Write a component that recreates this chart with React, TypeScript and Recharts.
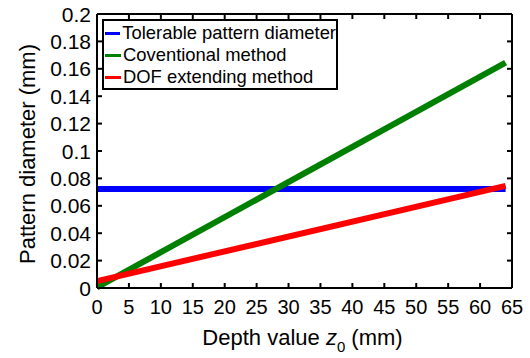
import React from "react";
import { LineChart, Line, XAxis, YAxis, Legend } from "recharts";

const depth = [0, 64];
const tolerable = [0.0723, 0.0723];
const conventional = [0.0005, 0.1645];
const dofExtending = [0.005, 0.0745];

const xTicks = [0, 5, 10, 15, 20, 25, 30, 35, 40, 45, 50, 55, 60, 65];
const yTicks = [0, 0.02, 0.04, 0.06, 0.08, 0.1, 0.12, 0.14, 0.16, 0.18, 0.2];

const seriesInfo = [
  { key: "tolerable", name: "Tolerable pattern diameter", color: "#0000ff", xId: "top", yId: "right" },
  { key: "conventional", name: "Coventional method", color: "#008000", xId: 0, yId: 0 },
  { key: "dof", name: "DOF extending method", color: "#ff0000", xId: 0, yId: 0 },
];

const data = depth.map((d, i) => ({
  x: d,
  tolerable: tolerable[i],
  conventional: conventional[i],
  dof: dofExtending[i],
}));

const FONT = "'Liberation Sans', Arial, sans-serif";
const X_TM = 12;
const Y_TM = 6;
const TICK_LEN = 5;

const BottomTick = (props: any) => {
  const { x, y, payload } = props;
  return (
    <g>
      <line x1={x} x2={x} y1={y - X_TM} y2={y - X_TM - TICK_LEN} stroke="#000" strokeWidth={2} />
      <text x={x} y={y} dy="0.71em" textAnchor="middle" fontSize={20} fontFamily={FONT} fill="#000">
        {payload.value}
      </text>
    </g>
  );
};

const LeftTick = (props: any) => {
  const { x, y, payload } = props;
  return (
    <g>
      <line x1={x + Y_TM} x2={x + Y_TM + TICK_LEN} y1={y} y2={y} stroke="#000" strokeWidth={2} />
      <text x={x} y={y} dy="0.36em" textAnchor="end" fontSize={21} fontFamily={FONT} fill="#000">
        {String(payload.value)}
      </text>
    </g>
  );
};

const TopTick = (props: any) => {
  const { x, y } = props;
  return <line x1={x} x2={x} y1={y} y2={y + TICK_LEN} stroke="#000" strokeWidth={2} />;
};

const RightTick = (props: any) => {
  const { x, y } = props;
  return <line x1={x} x2={x - TICK_LEN} y1={y} y2={y} stroke="#000" strokeWidth={2} />;
};

const XLabel = (props: any) => {
  const vb = props.viewBox || { x: 97, y: 288, width: 415, height: 70 };
  const cx = vb.x + vb.width / 2 - 2;
  return (
    <text x={cx} y={vb.y + 57} textAnchor="middle" fontSize={22} fontFamily={FONT} fill="#000">
      <tspan>Depth value </tspan>
      <tspan fontStyle="italic">z</tspan>
      <tspan fontSize={15} dy={7}>0</tspan>
      <tspan dy={-7}> (mm)</tspan>
    </text>
  );
};

const YLabel = (props: any) => {
  const vb = props.viewBox || { x: 0, y: 14, width: 97, height: 274 };
  const cx = vb.x + 27;
  const cy = vb.y + vb.height / 2 + 3;
  return (
    <text
      x={cx}
      y={cy}
      transform={`rotate(-90, ${cx}, ${cy})`}
      textAnchor="middle"
      dominantBaseline="central"
      fontSize={22}
      fontFamily={FONT}
      fill="#000"
    >
      Pattern diameter (mm)
    </text>
  );
};

const LegendBox = () => (
  <div
    style={{
      border: "2px solid #000",
      background: "#fff",
      width: 232,
      height: 66,
      paddingTop: 1,
      fontFamily: FONT,
      fontSize: 18.4,
      color: "#000",
      boxSizing: "content-box",
      textAlign: "left",
    }}
  >
    {seriesInfo.map((s) => (
      <div key={s.key} style={{ display: "flex", alignItems: "center", height: 22, whiteSpace: "nowrap" }}>
        <div style={{ width: 16, height: 3, background: s.color, marginLeft: 1, marginRight: 2 }} />
        <span>{s.name}</span>
      </div>
    ))}
  </div>
);

export default function App() {
  return (
    <div style={{ position: "absolute", left: 0, top: 0, width: 530, height: 358, background: "#fff" }}>
      <LineChart width={530} height={358} data={data} margin={{ top: 13, right: 17, bottom: 0, left: 0 }}>
        <XAxis
          dataKey="x"
          type="number"
          domain={[0, 65]}
          ticks={xTicks}
          interval={0}
          height={70}
          tickSize={0}
          tickMargin={X_TM}
          tick={<BottomTick />}
          axisLine={{ stroke: "#000", strokeWidth: 2 }}
          label={<XLabel />}
        />
        <XAxis
          xAxisId="top"
          orientation="top"
          dataKey="x"
          type="number"
          domain={[0, 65]}
          ticks={xTicks}
          interval={0}
          height={1}
          tickSize={0}
          tickMargin={0}
          tick={<TopTick />}
          axisLine={{ stroke: "#000", strokeWidth: 2 }}
        />
        <YAxis
          type="number"
          domain={[0, 0.2]}
          ticks={yTicks}
          interval={0}
          width={97}
          tickSize={0}
          tickMargin={Y_TM}
          tick={<LeftTick />}
          axisLine={{ stroke: "#000", strokeWidth: 2 }}
          label={<YLabel />}
        />
        <YAxis
          yAxisId="right"
          orientation="right"
          type="number"
          domain={[0, 0.2]}
          ticks={yTicks}
          interval={0}
          width={1}
          tickSize={0}
          tickMargin={0}
          tick={<RightTick />}
          axisLine={{ stroke: "#000", strokeWidth: 2 }}
        />
        <Legend
          content={<LegendBox />}
          layout="horizontal"
          verticalAlign="middle"
          align="center"
          wrapperStyle={{ position: "absolute", left: 102, top: 19, width: "auto" }}
        />
        {seriesInfo.map((s) => (
          <Line
            key={s.key}
            dataKey={s.key}
            name={s.name}
            xAxisId={s.xId}
            yAxisId={s.yId}
            stroke={s.color}
            strokeWidth={6}
            dot={false}
            activeDot={false}
            isAnimationActive={false}
            legendType="none"
          />
        ))}
      </LineChart>
    </div>
  );
}
